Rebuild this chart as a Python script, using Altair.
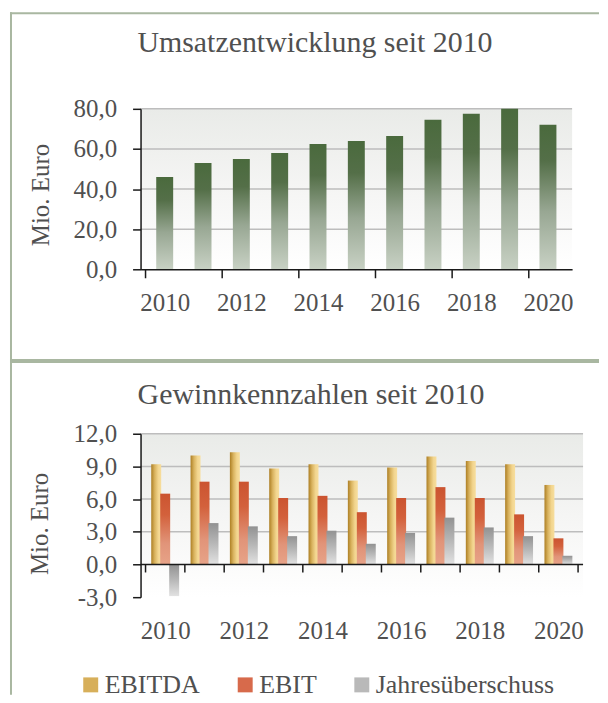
import altair as alt
import pandas as pd

# ---------------- data ----------------
years = [2010, 2011, 2012, 2013, 2014, 2015, 2016, 2017, 2018, 2019, 2020]
umsatz = [46.0, 53.0, 55.0, 58.0, 62.5, 64.0, 66.5, 74.5, 77.5, 80.0, 72.0]
ebitda = [9.2, 10.0, 10.3, 8.8, 9.2, 7.7, 8.9, 9.9, 9.5, 9.2, 7.3]
ebit = [6.5, 7.6, 7.6, 6.1, 6.3, 4.8, 6.1, 7.1, 6.1, 4.6, 2.4]
jahres = [-2.9, 3.8, 3.5, 2.6, 3.1, 1.9, 2.9, 4.3, 3.4, 2.6, 0.8]
series = ["EBITDA", "EBIT", "Jahresüberschuss"]
label_years = [2010, 2012, 2014, 2016, 2018, 2020]
top_tick_pos = [2009.5, 2011.5, 2013.5, 2015.5, 2017.5, 2019.5]
bottom_tick_pos = [2009.5, 2010.5, 2011.5, 2012.5, 2013.5, 2014.5,
                   2015.5, 2016.5, 2017.5, 2018.5, 2019.5, 2020.5]
top_yticks = [0, 20, 40, 60, 80]
top_grid = [20, 40, 60, 80]
bottom_yticks = [-3, 0, 3, 6, 9, 12]
bottom_grid = [3, 6, 9, 12]
legend_colors = ["#d7af5a", "#d76a4b", "#b9b9b9"]

# ---------------- style ----------------
FONT = "Liberation Serif"
TXT = "#505050"
AXC = "#1a1a1a"
FRAME = "#a9b7a1"
GRIDC = "#bdbdbd"
W1, H1 = 433, 161
W2, H2 = 444, 164
RIGHT = 460  # right end of frame lines, relative to plot origin


def grad(stops, horizontal=False):
    return alt.Gradient(
        gradient="linear",
        x1=0, y1=0,
        x2=1 if horizontal else 0,
        y2=0 if horizontal else 1,
        stops=[alt.GradientStop(color=c, offset=o) for o, c in stops],
    )


bg_grad = grad([(0, "#e9ebe8"), (0.5, "#f5f5f4"), (1, "#ffffff")])
green_grad = grad([(0, "#4a6a3d"), (0.25, "#546f48"), (0.6, "#98a793"), (1, "#c8d1c4")])
gold_grad = grad([(0, "#ad7f24"), (0.35, "#d9b35f"), (0.7, "#f2d58e"), (1, "#f7de9e")], horizontal=True)
red_grad = grad([(0, "#cb5430"), (0.3, "#d3613c"), (0.7, "#e19479"), (1, "#e7a388")])
grey_grad = grad([(0, "#929292"), (0.5, "#b8b8b8"), (1, "#e2e2e2")])

label_expr = "replace(replace(format(datum.value, '.1f'), '.', ','), '\u2212', '-')"

one = pd.DataFrame({"k": [0]})


def frame_layers(top_y, bottom_y, left_bottom):
    layers = [
        alt.Chart(one).mark_rule(color=FRAME, strokeWidth=2).encode(
            x=alt.value(-131), x2=alt.value(RIGHT), y=alt.value(top_y)),
        alt.Chart(one).mark_rule(color=FRAME, strokeWidth=2).encode(
            x=alt.value(-130), y=alt.value(top_y - 1), y2=alt.value(left_bottom)),
    ]
    if bottom_y is not None:
        layers.append(alt.Chart(one).mark_rule(color=FRAME, strokeWidth=2).encode(
            x=alt.value(-131), x2=alt.value(RIGHT), y=alt.value(bottom_y)))
    return layers


def y_axis(values, tx, ty):
    return alt.Axis(
        values=values, labelExpr=label_expr, grid=False,
        domainColor=AXC, domainWidth=1.5, tickColor=AXC, tickWidth=1.5, tickSize=8,
        labelPadding=16, labelFont=FONT, labelFontSize=25, labelColor=TXT,
        title="Mio. Euro", titleFont=FONT, titleFontSize=25, titleFontWeight="normal",
        titleColor=TXT, titleAngle=270, titleAlign="center", titleBaseline="alphabetic",
        titleX=tx, titleY=ty, zindex=1)


def x_axis(domain):
    return alt.Axis(
        values=label_years, format="d", title=None, grid=False,
        ticks=False, tickSize=0, domain=domain, domainColor=AXC, domainWidth=1.5,
        labelPadding=21, labelFont=FONT, labelFontSize=25, labelColor=TXT,
        labelFlush=False, zindex=1)


# ---------------- top panel ----------------
xs1 = alt.Scale(domain=[2009.5, 2020.5], nice=False, zero=False)
ys1 = alt.Scale(domain=[0, 80], nice=False)
xa1 = x_axis(True)
ya1 = y_axis(top_yticks, -92, 86)
df_top = pd.DataFrame({"Jahr": years, "Umsatz": umsatz})

bg1 = alt.Chart(one).mark_rect(color=bg_grad).encode(
    x=alt.value(0), x2=alt.value("width"), y=alt.value(0), y2=alt.value("height"))
grid1 = alt.Chart(pd.DataFrame({"g": top_grid})).mark_rule(color=GRIDC, strokeWidth=1.5).encode(
    y=alt.Y("g:Q", scale=ys1, axis=ya1), x=alt.value(0), x2=alt.value("width"))
bars1 = alt.Chart(df_top).mark_bar(width=17, orient="vertical", color=green_grad).encode(
    x=alt.X("Jahr:Q", scale=xs1, axis=xa1),
    y=alt.Y("Umsatz:Q", scale=ys1, axis=ya1))
ticks1 = alt.Chart(pd.DataFrame({"t": top_tick_pos})).mark_rule(
    color=AXC, strokeWidth=1.5, y2Offset=9).encode(
    x=alt.X("t:Q", scale=xs1, axis=xa1), y=alt.value("height"), y2=alt.value("height"))
title1 = alt.Chart(one).mark_text(
    text="Umsatzentwicklung seit 2010", font=FONT, fontSize=30, color=TXT,
    align="center", baseline="alphabetic").encode(x=alt.value(175), y=alt.value(-57))

top = alt.layer(bg1, grid1, bars1, ticks1, title1,
                *frame_layers(-96, 252, 253)).properties(width=W1, height=H1)

# ---------------- bottom panel ----------------
xs2 = alt.Scale(domain=[2009.5, 2020.5], nice=False, zero=False)
ys2 = alt.Scale(domain=[-3, 12], nice=False, zero=False)
xa2 = x_axis(False)
ya2 = y_axis(bottom_yticks, -93, 90)
df_bot = pd.DataFrame({"Jahr": years, "EBITDA": ebitda, "EBIT": ebit, "Jahresüberschuss": jahres})

bg2 = alt.Chart(one).mark_rect(color=bg_grad).encode(
    x=alt.value(0), x2=alt.value("width"), y=alt.value(0), y2=alt.value("height"))
grid2 = alt.Chart(pd.DataFrame({"g": bottom_grid})).mark_rule(color=GRIDC, strokeWidth=1.5).encode(
    y=alt.Y("g:Q", scale=ys2, axis=ya2), x=alt.value(0), x2=alt.value("width"))
b_ebitda = alt.Chart(df_bot).mark_bar(width=10, xOffset=-9, orient="vertical", color=gold_grad).encode(
    x=alt.X("Jahr:Q", scale=xs2, axis=xa2),
    y=alt.Y("EBITDA:Q", scale=ys2, axis=ya2))
b_ebit = alt.Chart(df_bot).mark_bar(width=10, xOffset=0, orient="vertical", color=red_grad).encode(
    x=alt.X("Jahr:Q", scale=xs2, axis=xa2),
    y=alt.Y("EBIT:Q", scale=ys2, axis=ya2))
b_jahr = alt.Chart(df_bot).mark_bar(width=10, xOffset=9, orient="vertical", color=grey_grad).encode(
    x=alt.X("Jahr:Q", scale=xs2, axis=xa2),
    y=alt.Y("Jahresüberschuss:Q", scale=ys2, axis=ya2))
zero2 = alt.Chart(pd.DataFrame({"z": [0]})).mark_rule(color=AXC, strokeWidth=1.5).encode(
    y=alt.Y("z:Q", scale=ys2, axis=ya2), x=alt.value(0), x2=alt.value("width"))
ticks2 = alt.Chart(pd.DataFrame({"t": bottom_tick_pos})).mark_rule(
    color=AXC, strokeWidth=1.5, y2Offset=8).encode(
    x=alt.X("t:Q", scale=xs2, axis=xa2),
    y=alt.Y(datum=0, scale=ys2, axis=ya2), y2=alt.Y2(datum=0))
legend2 = alt.Chart(df_bot).transform_fold(series, as_=["Reihe", "Wert"]).mark_square(opacity=0).encode(
    x=alt.X("Jahr:Q", scale=xs2, axis=xa2),
    y=alt.Y("Wert:Q", scale=ys2, axis=ya2),
    color=alt.Color("Reihe:N", scale=alt.Scale(domain=series, range=legend_colors),
                    legend=alt.Legend(
                        orient="none", legendX=-63, legendY=565, direction="horizontal",
                        title=None, symbolType="square", symbolSize=225, symbolStrokeWidth=0,
                        symbolOpacity=1, labelFont=FONT, labelFontSize=26, labelColor=TXT,
                        labelOffset=1, columnPadding=32, padding=0, labelLimit=400)))
title2 = alt.Chart(one).mark_text(
    text="Gewinnkennzahlen seit 2010", font=FONT, fontSize=30, color=TXT,
    align="center", baseline="alphabetic").encode(x=alt.value(171), y=alt.value(-30))

bottom = alt.layer(bg2, grid2, b_ebitda, b_ebit, b_jahr, zero2, ticks2, legend2, title2,
                   *frame_layers(-72, None, 262)).properties(width=W2, height=H2)

chart = alt.vconcat(top, bottom, spacing=-2).properties(
    padding={"left": 1, "top": 2, "right": 0, "bottom": 0}
).configure_view(stroke=None)

chart.save("out.html", embed_options={"renderer": "svg", "actions": False})
